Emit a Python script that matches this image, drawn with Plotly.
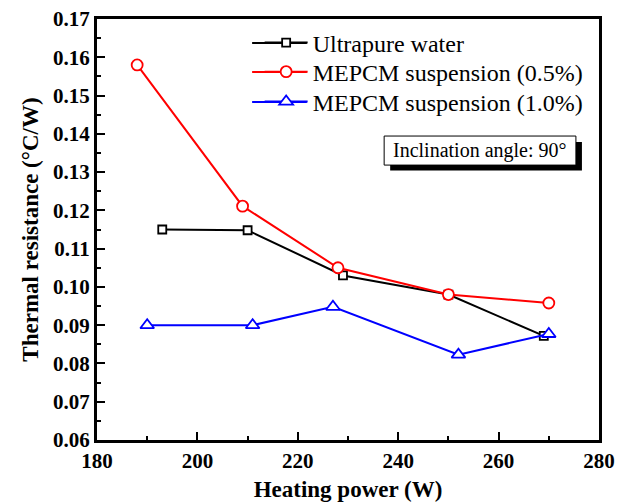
import plotly.graph_objects as go

# Heating power (W) and thermal resistance (°C/W) per working fluid
power_water = [193, 210, 229, 250, 269]
r_water = [0.1150, 0.1148, 0.1030, 0.0980, 0.0872]

power_pcm05 = [188, 209, 228, 250, 270]
r_pcm05 = [0.1580, 0.1211, 0.1050, 0.0980, 0.0958]

power_pcm10 = [190, 211, 227, 252, 270]
r_pcm10 = [0.0900, 0.0900, 0.0948, 0.0823, 0.0877]

series_names = ["Ultrapure water", "MEPCM suspension (0.5%)", "MEPCM suspension (1.0%)"]
series_colors = ["black", "#ff0000", "#0000ff"]
x_ticks = [180, 200, 220, 240, 260, 280]
y_ticks = [0.06, 0.07, 0.08, 0.09, 0.10, 0.11, 0.12, 0.13, 0.14, 0.15, 0.16, 0.17]

SERIF = "Liberation Serif, Times New Roman, serif"

fig = go.Figure()
fig.add_trace(go.Scatter(
    x=power_water, y=r_water, name=series_names[0], mode="lines+markers", legend="legend",
    line=dict(color=series_colors[0], width=2),
    marker=dict(symbol="square", size=8, color="white", line=dict(color=series_colors[0], width=1.8)),
))
fig.add_trace(go.Scatter(
    x=power_pcm05, y=r_pcm05, name=series_names[1], mode="lines+markers", legend="legend2",
    line=dict(color=series_colors[1], width=2),
    marker=dict(symbol="circle", size=11, color="white", line=dict(color=series_colors[1], width=1.8)),
))
fig.add_trace(go.Scatter(
    x=power_pcm10, y=r_pcm10, name=series_names[2], mode="lines+markers", legend="legend3",
    line=dict(color=series_colors[2], width=2),
    marker=dict(symbol="triangle-up", size=12, color="white", line=dict(color=series_colors[2], width=1.8)),
))

axis_common = dict(
    showline=True, linecolor="black", linewidth=3, mirror=True,
    ticks="inside", ticklen=8, tickwidth=2, tickcolor="black",
    showgrid=False, zeroline=False, automargin=False,
    tickfont=dict(family=SERIF, size=21, color="black", weight="bold"),
)

fig.update_xaxes(
    range=[180, 280], tickvals=x_ticks,
    minor=dict(ticks="inside", ticklen=4, tickwidth=2, tickcolor="black", dtick=10, showgrid=False),
    title=dict(text="Heating power (W)", font=dict(family=SERIF, size=23, color="black", weight="bold"), standoff=12),
    **axis_common,
)
fig.update_yaxes(
    range=[0.06, 0.17], tickvals=y_ticks, tickformat=".2f",
    minor=dict(ticks="inside", ticklen=4, tickwidth=2, tickcolor="black", dtick=0.005, showgrid=False),
    title=dict(text="Thermal resistance (°C/W)", font=dict(family=SERIF, size=23, color="black", weight="bold"), standoff=8),
    **axis_common,
)

# Framed note with a drop shadow in the upper right of the plot area
fig.add_shape(type="rect", xref="paper", yref="paper", x0=0.584, x1=0.966, y0=0.640, y1=0.708,
              fillcolor="black", line=dict(width=0), layer="above")
fig.add_shape(type="rect", xref="paper", yref="paper", x0=0.572, x1=0.954, y0=0.653, y1=0.722,
              fillcolor="white", line=dict(color="black", width=1), layer="above")
fig.add_annotation(
    text="Inclination angle: 90°", xref="paper", yref="paper", x=0.763, y=0.6875,
    showarrow=False, xanchor="center", yanchor="middle",
    font=dict(family=SERIF, size=20, color="black"),
)

# One single-entry legend per series so the rows sit at a tight spacing
legend_rows = [0.943, 0.874, 0.803]
legend_style = dict(
    x=0.324, xanchor="left", yanchor="middle",
    bgcolor="rgba(0,0,0,0)", borderwidth=0,
    font=dict(family=SERIF, size=24, color="black"),
    itemwidth=43,
)

# Longer sample lines behind each legend symbol
for row_y, color in zip(legend_rows, series_colors):
    fig.add_shape(type="line", xref="paper", yref="paper", x0=0.309, x1=0.418, y0=row_y, y1=row_y,
                  line=dict(color=color, width=2), layer="above")

fig.update_layout(
    width=627, height=502,
    margin=dict(l=97, r=28, t=19, b=62),
    paper_bgcolor="white", plot_bgcolor="white",
    legend=dict(y=legend_rows[0], **legend_style),
    legend2=dict(y=legend_rows[1], **legend_style),
    legend3=dict(y=legend_rows[2], **legend_style),
    showlegend=True,
)

fig.write_html("out.html")
